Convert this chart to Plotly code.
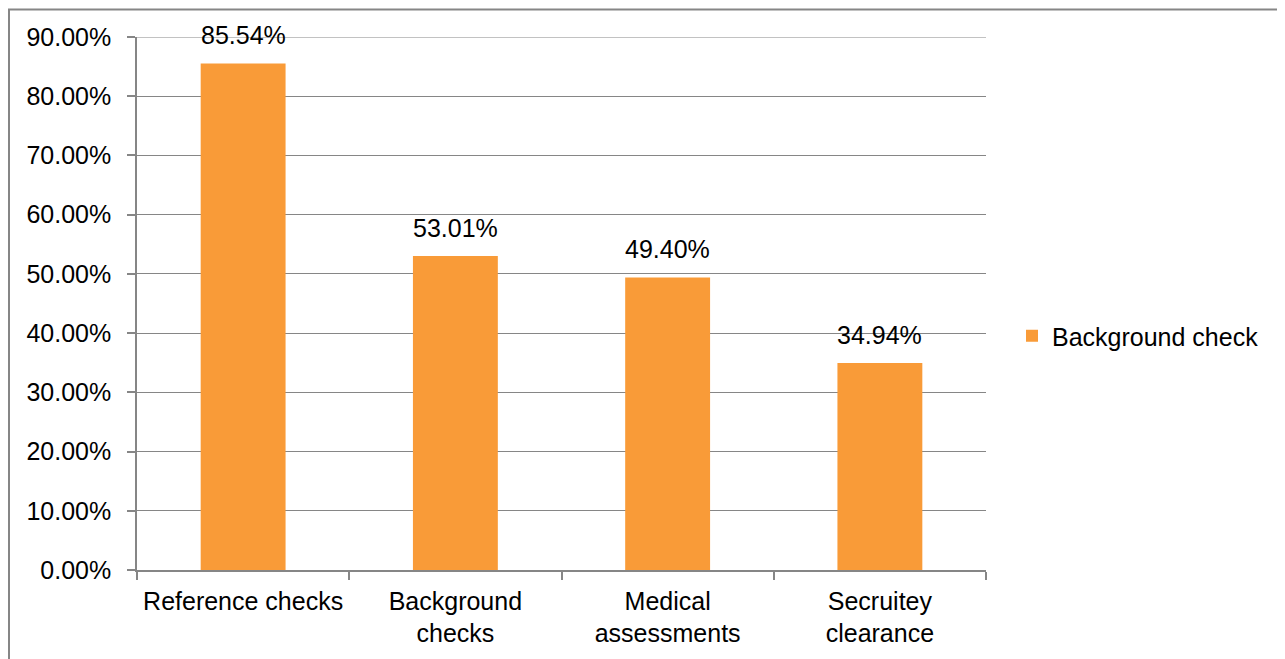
import plotly.graph_objects as go

categories = ["Reference checks", "Background<br>checks", "Medical<br>assessments", "Secruitey<br>clearance"]
values = [0.8554, 0.5301, 0.4940, 0.3494]
series_name = "Background check"
y_max = 0.9

# figure is drawn with an 8px page offset, so work in figure coordinates
W, H = 1277, 651
L, R, T, B = 129, 299, 29, 89
pw, ph = W - L - R, H - T - B
FONT = "Liberation Sans, Arial, sans-serif"
GRAY = "#868686"

def px_x(x):
    return (x - L) / pw

def px_y(y):
    return (H - B - y) / ph

fig = go.Figure()
fig.add_trace(go.Bar(
    x=categories, y=values, name=series_name,
    marker=dict(color="#F99B38", line=dict(width=0)),
    showlegend=True, hoverinfo="x+y",
))

for c, v in zip(categories, values):
    fig.add_annotation(x=c, y=v, text=f"{v*100:.2f}%", showarrow=False,
                       yanchor="bottom", yshift=12,
                       font=dict(size=25, color="#000000", family=FONT))

fig.update_layout(
    width=W, height=H,
    margin=dict(l=L, r=R, t=T, b=B, pad=0),
    paper_bgcolor="white", plot_bgcolor="white",
    bargap=0.6,
    font=dict(family=FONT, size=25, color="#000000"),
    showlegend=True,
    legend=dict(x=px_x(1004), y=px_y(328), xanchor="left", yanchor="middle",
                font=dict(size=25), bgcolor="rgba(0,0,0,0)"),
    xaxis=dict(showline=True, linecolor=GRAY, linewidth=1.5, ticks="outside",
               tickson="boundaries", ticklen=8, tickcolor=GRAY, tickwidth=1.5,
               showgrid=False, tickfont=dict(size=25), fixedrange=True,
               ticklabelstandoff=8),
    yaxis=dict(range=[0, y_max], tickvals=[i / 10 for i in range(10)],
               tickformat=".2%", showline=True,
               linecolor=GRAY, linewidth=1.5, ticks="outside", ticklen=8,
               tickcolor=GRAY, tickwidth=1.5, showgrid=True, gridcolor=GRAY,
               gridwidth=1, zeroline=False, tickfont=dict(size=25), fixedrange=True,
               ticklabelstandoff=11),
    shapes=[
        dict(type="rect", xref="paper", yref="paper",
             x0=px_x(1), x1=px_x(1270), y0=px_y(700), y1=px_y(1.5),
             line=dict(color=GRAY, width=2), fillcolor="rgba(0,0,0,0)",
             layer="above"),
        dict(type="line", xref="paper", yref="y", x0=0, x1=1, y0=y_max, y1=y_max,
             line=dict(color=GRAY, width=1), layer="below"),
    ],
)

fig.write_html("out.html", config={"displayModeBar": False})
